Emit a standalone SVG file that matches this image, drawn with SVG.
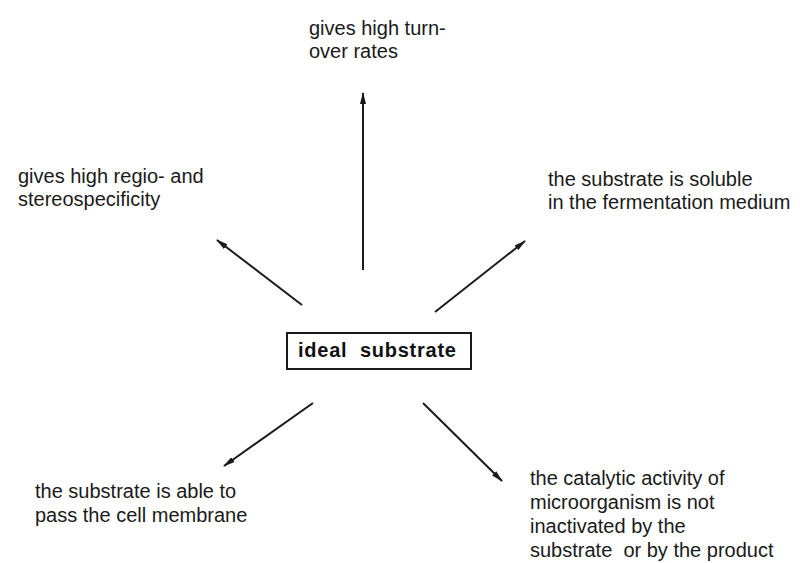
<svg xmlns="http://www.w3.org/2000/svg" width="800" height="563" viewBox="0 0 800 563">
<style>
.lbl{font-family:"Liberation Sans",Arial,sans-serif;font-size:20px;fill:#1a1a1a}
.main{font-family:"Liberation Sans",Arial,sans-serif;font-size:20px;font-weight:bold;fill:#111;letter-spacing:0.75px}
.conn{stroke:#1a1a1a;stroke-width:2;fill:none;marker-end:url(#ah)}
</style>
<defs>
<marker id="ah" viewBox="0 0 12 6" refX="11" refY="3" markerWidth="12" markerHeight="6" markerUnits="userSpaceOnUse" orient="auto">
<path d="M0,0 L12,3 L0,6 Z" fill="#1a1a1a"/>
</marker>
</defs>
<rect width="800" height="563" fill="#fff"/>
<g id="connectors">
<line class="conn" x1="363" y1="270" x2="363" y2="93"/>
<line class="conn" x1="302" y1="305" x2="217" y2="240"/>
<line class="conn" x1="435" y1="312" x2="525" y2="241"/>
<line class="conn" x1="313" y1="403" x2="224" y2="466"/>
<line class="conn" x1="423" y1="403" x2="502" y2="481"/>
</g>
<g id="center">
<rect x="287" y="333" width="184" height="36" fill="#fff" stroke="#1a1a1a" stroke-width="2"/>
<text class="main" x="298" y="357" xml:space="preserve">ideal  substrate</text>
</g>
<g id="top">
<text class="lbl" x="309" y="35">gives high turn-</text>
<text class="lbl" x="309" y="58">over rates</text>
</g>
<g id="left">
<text class="lbl" x="18" y="183">gives high regio- and</text>
<text class="lbl" x="18" y="206">stereospecificity</text>
</g>
<g id="right">
<text class="lbl" x="548" y="186">the substrate is soluble</text>
<text class="lbl" x="548" y="209">in the fermentation medium</text>
</g>
<g id="bottom-left">
<text class="lbl" x="35" y="498">the substrate is able to</text>
<text class="lbl" x="35" y="522">pass the cell membrane</text>
</g>
<g id="bottom-right">
<text class="lbl" x="530" y="485">the catalytic activity of</text>
<text class="lbl" x="530" y="509">microorganism is not</text>
<text class="lbl" x="530" y="533">inactivated by the</text>
<text class="lbl" x="530" y="557" xml:space="preserve">substrate  or by the product</text>
</g>
</svg>
